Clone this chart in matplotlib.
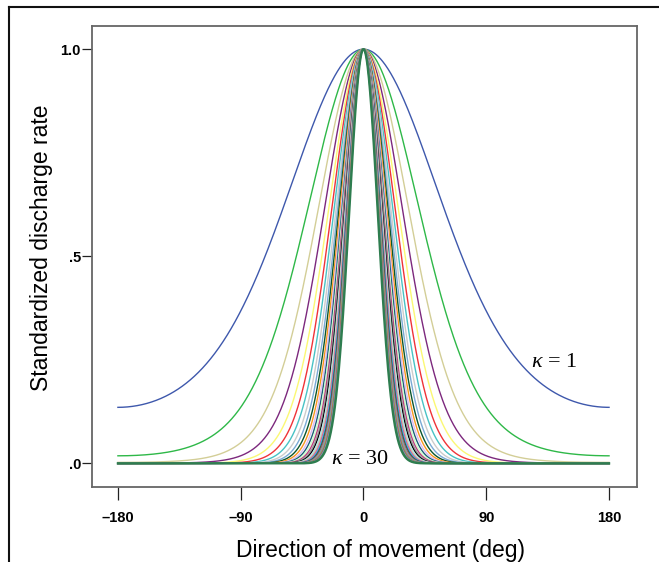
import matplotlib
matplotlib.use('Agg')
import matplotlib.pyplot as plt
import numpy as np
from matplotlib.lines import Line2D

# concentration values of the von Mises tuning curves
kappas = [1, 2, 3, 4, 5, 6, 7, 8, 9, 10, 11, 12, 13, 14, 15,
          16, 17, 18, 19, 20, 21, 22, 23, 24, 25, 26, 27, 28, 29, 30]
x_ticks = [-180, -90, 0, 90, 180]
x_tick_labels = ['\u2013180', '\u201390', '0', '90', '180']
y_ticks = [0.0, 0.5, 1.0]
y_tick_labels = ['.0', '.5', '1.0']

# SPSS-like colour cycle
colors = ['#3E58AC', '#2EB848', '#D3CE97', '#7C287D', '#FBF873', '#EF3338',
          '#48C2C5', '#CCCCCC', '#7AAAD5', '#0A562C', '#F8981D', '#DDBAF1',
          '#1A5F76', '#CCFFCC', '#BB3F7F', '#999999', '#000000', '#B5E0EE',
          '#C2D5AB', '#EB5D94', '#34B5E9', '#2F4F4F', '#8B6E4C', '#9E7BC2',
          '#6CBF8B', '#D96B3F', '#5A6E9C', '#A3A3A3', '#4C8C6E', '#2E7D4F']

plt.rcParams['mathtext.fontset'] = 'custom'
plt.rcParams['mathtext.it'] = 'Liberation Serif:italic'
plt.rcParams['mathtext.rm'] = 'Liberation Serif'

theta = np.linspace(-180, 180, 721)

fig = plt.figure(figsize=(6.59, 5.62), dpi=100)
ax = fig.add_axes([92 / 659, 1 - 487 / 562, (637 - 92) / 659, (487 - 26) / 562])

for i, k in enumerate(kappas):
    rate = np.exp(k * (np.cos(np.radians(theta)) - 1))
    lw = 1.7 if k == 30 else 1.0
    ax.plot(theta, rate, color=colors[i % len(colors)], lw=lw)

ax.set_xlim(-199, 200.5)
ax.set_ylim(-0.057, 1.056)
ax.set_xticks(x_ticks)
ax.set_xticklabels(x_tick_labels, fontsize=10.5, fontweight='bold', family='Liberation Sans')
ax.set_yticks(y_ticks)
ax.set_yticklabels(y_tick_labels, fontsize=10.5, fontweight='bold', family='Liberation Sans')
ax.tick_params(axis='x', length=9.5, width=0.9, color='#222222', pad=8)
ax.tick_params(axis='y', length=7, width=0.9, color='#222222', pad=1)

for s in ['left', 'bottom', 'right', 'top']:
    ax.spines[s].set_color('#666666')
    ax.spines[s].set_linewidth(1.3)

ax.set_xlabel('Direction of movement (deg)', fontsize=16.5, family='Liberation Sans')
ax.set_ylabel('Standardized discharge rate', fontsize=16.5, family='Liberation Sans')
ax.xaxis.set_label_coords(0.53, -0.112)
ax.yaxis.set_label_coords(-0.072, 0.518)

ax.text(140, 0.233, r'$\kappa$ = 1', fontsize=16, family='Liberation Serif',
        ha='center', va='baseline')
ax.text(-3, -0.002, r'$\kappa$ = 30', fontsize=16, family='Liberation Serif',
        ha='center', va='baseline')

# outer frame (left and top)
fig.add_artist(Line2D([9 / 659, 9 / 659], [0, 1 - 7 / 562], color='#111111', lw=1.5))
fig.add_artist(Line2D([9 / 659, 1], [1 - 7 / 562, 1 - 7 / 562], color='#111111', lw=1.5))

fig.savefig('out.png', dpi=100)
